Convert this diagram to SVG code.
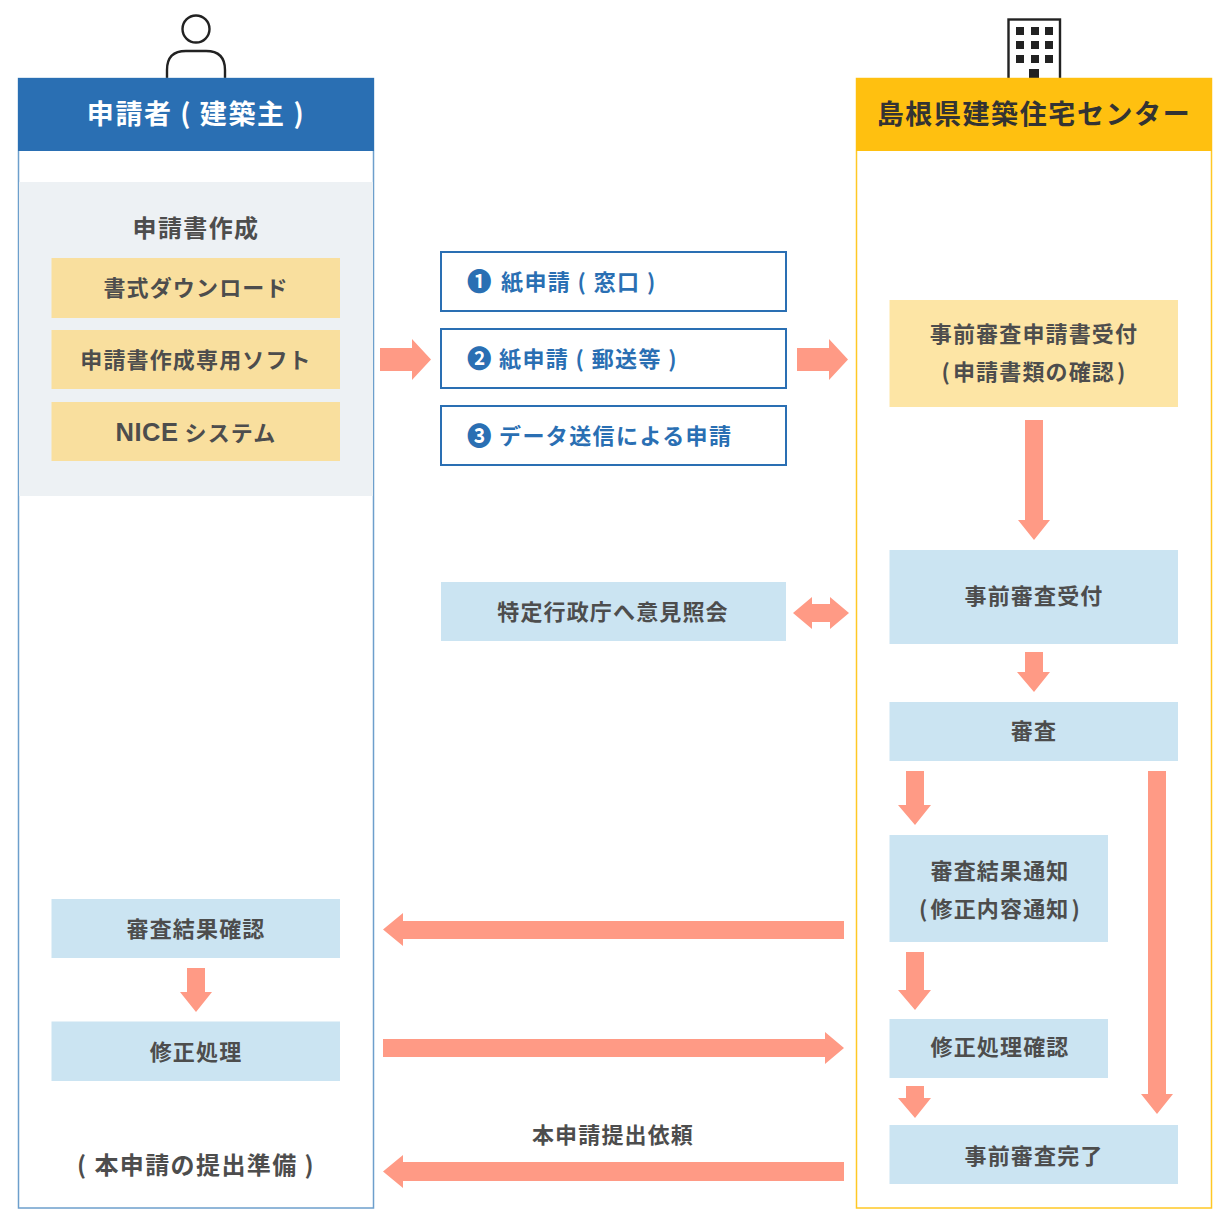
<svg xmlns="http://www.w3.org/2000/svg" width="1229" height="1228" viewBox="0 0 1229 1228">
<style>
text{font-family:"Noto Sans CJK JP","Noto Sans",sans-serif;font-weight:700;text-anchor:middle;fill:#4d4d4d;font-size:22px;letter-spacing:1.15px}
.hd{font-size:27px;letter-spacing:1.6px}
.lg{font-size:24px;letter-spacing:1.4px}
.w{fill:#fff}
.dk{fill:#333}
.bl{fill:#2a6fb3;text-anchor:start;letter-spacing:1.4px}
.num{font-size:24.500px}
.lat{font-family:"Liberation Sans",Arial,sans-serif;font-size:25.500px;letter-spacing:.5px}
.blue{fill:#cbe4f2}
.yel{fill:#f9df9e}
.out{fill:#fff;stroke:#2a6fb3;stroke-width:2}
.ar{fill:#ff9a85}
.ic{fill:none;stroke:#222;stroke-width:2.4}
.k{fill:#222}
</style>
<rect width="1229" height="1228" fill="#fff"/>
<g id="icon-person"><circle class="ic" cx="196" cy="29" r="13.500"/><path class="ic" d="M167 78V70Q167 51 186 51H206Q225 51 225 70V78"/></g>
<g id="icon-building"><rect class="ic" x="1008.500" y="19.500" width="51.500" height="60"/>
<path class="k" d="M1016 27h8v8h-8zM1031 27h8v8h-8zM1045 27h8v8h-8zM1016 41h8v8h-8zM1031 41h8v8h-8zM1045 41h8v8h-8zM1016 55h8v8h-8zM1031 55h8v8h-8zM1045 55h8v8h-8zM1029 69h10v10h-10z"/></g>
<g id="applicant">
<rect x="18.500" y="78.500" width="355" height="1129.500" fill="#fff" stroke="#6d9fcc" stroke-width="1.500"/>
<rect x="18" y="78" width="356" height="73" fill="#2a6fb3"/>
<text class="hd w" x="196" y="124">申請者 ( 建築主 )</text>
</g>
<g id="center">
<rect x="856.500" y="78.500" width="355" height="1129.500" fill="#fff" stroke="#ffc825" stroke-width="1.500"/>
<rect x="856" y="78" width="356" height="73" fill="#ffc010"/>
<text class="hd dk" x="1034" y="124">島根県建築住宅センター</text>
</g>
<g id="prep">
<rect x="19" y="182" width="354" height="314" fill="#edf1f4"/>
<text class="lg" x="196" y="237">申請書作成</text>
</g>
<g id="n-download"><rect class="yel" x="51.500" y="258" width="288.500" height="60"/><text x="196" y="296">書式ダウンロード</text></g>
<g id="n-soft"><rect class="yel" x="51.500" y="330" width="288.500" height="59"/><text x="196" y="368">申請書作成専用ソフト</text></g>
<g id="n-nice"><rect class="yel" x="51.500" y="402" width="288.500" height="59"/><text x="196" y="441"><tspan class="lat">NICE</tspan> システム</text></g>
<g id="n-paper1"><rect class="out" x="441" y="252" width="345" height="59"/><text class="bl num" x="467" y="291">❶</text><text class="bl" x="501" y="290">紙申請 ( 窓口 )</text></g>
<g id="n-paper2"><rect class="out" x="441" y="329" width="345" height="59"/><text class="bl num" x="467" y="368">❷</text><text class="bl" x="499" y="367">紙申請 ( 郵送等 )</text></g>
<g id="n-data"><rect class="out" x="441" y="406" width="345" height="59"/><text class="bl num" x="467" y="445">❸</text><text class="bl" x="499" y="444">データ送信による申請</text></g>
<g id="n-opinion"><rect class="blue" x="441" y="582" width="345" height="59"/><text x="613" y="620">特定行政庁へ意見照会</text></g>
<g id="n-accept-doc"><rect x="889.500" y="300" width="288.500" height="107" fill="#fde5a5"/><text x="1034" y="342">事前審査申請書受付</text><text x="1034" y="380">(<tspan dx="2">申請書類の確認</tspan><tspan dx="2">)</tspan></text></g>
<g id="n-accept"><rect class="blue" x="889.500" y="550" width="288.500" height="94"/><text x="1034" y="604">事前審査受付</text></g>
<g id="n-review"><rect class="blue" x="889.500" y="702" width="288.500" height="59"/><text x="1034" y="739">審査</text></g>
<g id="n-notice"><rect class="blue" x="889.500" y="835" width="218.500" height="107"/><text x="1000" y="879">審査結果通知</text><text x="1000" y="917">(<tspan dx="2">修正内容通知</tspan><tspan dx="2">)</tspan></text></g>
<g id="n-fixcheck"><rect class="blue" x="889.500" y="1019" width="218.500" height="59"/><text x="1000" y="1055">修正処理確認</text></g>
<g id="n-done"><rect class="blue" x="889.500" y="1125" width="288.500" height="59"/><text x="1034" y="1164">事前審査完了</text></g>
<g id="n-result"><rect class="blue" x="51.500" y="899" width="288.500" height="59"/><text x="196" y="937">審査結果確認</text></g>
<g id="n-fix"><rect class="blue" x="51.500" y="1021.500" width="288.500" height="59.500"/><text x="196" y="1060">修正処理</text></g>
<g id="n-prepare"><text class="lg" x="196" y="1174">( 本申請の提出準備 )</text></g>
<g id="connectors">
<path class="ar" d="M380 348H412V339L431 359.500L412 380V371H380Z"/>
<path class="ar" d="M797 348H829V339L848 359.500L829 380V371H797Z"/>
<path class="ar" d="M1025 420H1043V520H1050L1034 540L1018 520H1025Z"/>
<path class="ar" d="M793 613L812 597V604H830V597L849 613L830 629V622H812V629Z"/>
<path class="ar" d="M1025 652H1043V672H1050L1034 692L1017 672H1025Z"/>
<path class="ar" d="M906 771H924V805H931L915 825L898 805H906Z"/>
<path class="ar" d="M1148 771H1166V1094H1173L1157 1114L1141 1094H1148Z"/>
<path class="ar" d="M906 952H924V990H931L915 1010L898 990H906Z"/>
<path class="ar" d="M906 1086H924V1098H931L915 1118L898 1098H906Z"/>
<path class="ar" d="M187 968H205V992H212L196 1012L180 992H187Z"/>
<path class="ar" d="M844 921H403V913L383 929.500L403 946V939H844Z"/>
<path class="ar" d="M383 1039H825V1032L844 1048L825 1064V1057H383Z"/>
<path class="ar" d="M844 1162H403V1155L383 1171.500L403 1188V1181H844Z"/>
<text x="613" y="1143">本申請提出依頼</text>
</g>
</svg>
